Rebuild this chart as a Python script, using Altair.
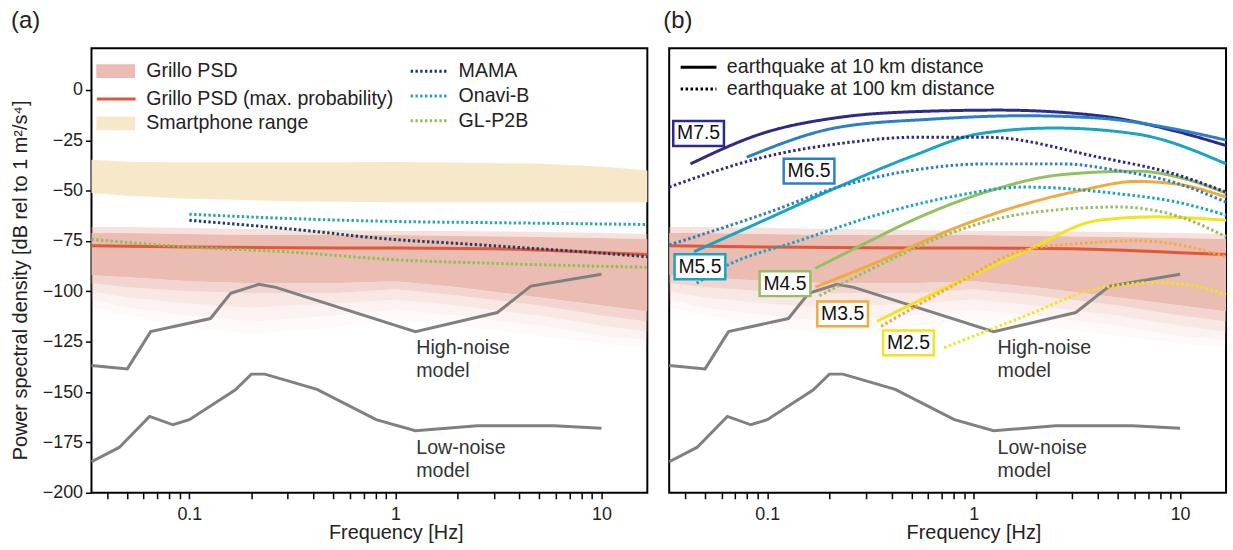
import altair as alt
import pandas as pd

FONT = "Liberation Sans"
FMIN, FMAX = 0.0335, 16.7
YMIN, YMAX = -200, 20.7

# ---------------- data ----------------
band_f = [0.0335, 0.05, 0.1, 0.2, 0.5, 1, 2, 5, 10, 16.7]
band_fuzz_top = [-68, -68, -68.5, -69, -69.5, -70, -70, -70.5, -71, -71.5]
band_core_top = [-71, -71, -71.5, -72, -72, -72, -72.5, -73, -73.5, -74]
band_core_bot = [-92, -93, -95, -96, -96, -95, -98, -103, -107, -110]
band_b1 = [-96, -98, -100, -101, -101, -99, -102, -107, -112, -115]
band_b2 = [-100, -103, -106, -108, -106, -104, -107, -112, -117, -120]
band_b3 = [-104, -108, -112, -115, -112, -109, -112, -117, -122, -124]
band_fuzz_bot = [-108, -112, -118, -121, -118, -114, -117, -122, -126, -128]

maxp_f = [0.0335, 0.1, 0.3, 1, 3, 6, 10, 16.7]
maxp_db = [-77.3, -78, -78.4, -78.5, -78.8, -79.8, -80.8, -81.7]

phone_f = [0.0335, 0.05, 0.1, 0.3, 1, 5, 10, 16.7]
phone_top = [-34.7, -35.6, -36, -36, -35.8, -36.5, -38, -40]
phone_bot = [-51.2, -52.5, -54, -55.2, -55.7, -55.8, -55.8, -55.8]

mama_f = [0.1, 0.3, 1, 2, 4.5, 10, 16.7]
mama_db = [-64.7, -68.9, -74.3, -76.2, -78.6, -81, -82.8]
onavi_f = [0.1, 0.3, 1, 3, 16.7]
onavi_db = [-61.7, -63.8, -65.3, -65.9, -66.8]
glp2b_f = [0.0335, 0.1, 0.3, 1, 3.5, 16.7]
glp2b_db = [-74.2, -78, -80.4, -84.3, -86.3, -88.1]

nhnm_f = [0.0335, 0.05, 0.0649, 0.1266, 0.1587, 0.2174, 0.263, 1.25, 3.125, 4.545, 10]
nhnm_db = [-136.8, -138.5, -120.0, -113.5, -101.0, -96.5, -98.0, -120.0, -110.5, -97.4, -91.5]
nlnm_f = [0.0335, 0.04566, 0.0641, 0.0833, 0.1, 0.1667, 0.2, 0.2326, 0.4167, 0.806, 1.25, 2.5, 5.88, 10]
nlnm_db = [-184.6, -177.5, -162.1, -166.25, -163.75, -149.0, -141.1, -141.1, -148.65, -163.7, -169.2, -166.7, -166.7, -168.0]

note_text = ["High-noise", "model", "Low-noise", "model"]
note_db = [-127.9, -139.8, -177.8, -189.1]
note_f_a = [1.263, 1.263, 1.263, 1.263]
note_f_b = [1.306, 1.306, 1.306, 1.306]

mag_labels = ["M7.5", "M6.5", "M5.5", "M4.5", "M3.5", "M2.5"]
mag_colors = ["#2d2a8a", "#2a7fc6", "#18a5c4", "#94c060", "#f0aa3e", "#f3e31f"]
label_f = [0.0465, 0.1594, 0.0472, 0.1219, 0.2319, 0.4833]
label_db = [-21.6, -40.3, -87.8, -96.2, -111.2, -125.6]

dist_labels = ["earthquake at 10 km distance", "earthquake at 100 km distance"]

# 10 km (solid)
m75_10_f = [0.0425, 0.0958, 0.22, 0.507, 1.32, 4.05, 9.3, 16.7]
m75_10_db = [-36.7, -21.4, -13.7, -10.8, -10.0, -12.8, -20.2, -27.6]
m65_10_f = [0.0795, 0.22, 0.623, 1.76, 4.05, 9.3, 16.7]
m65_10_db = [-33.4, -18.6, -14.5, -12.8, -14.0, -19.3, -24.9]
m55_10_f = [0.0442, 0.1, 0.22, 0.5, 1.07, 2.46, 6.17, 16.7]
m55_10_db = [-80.3, -64, -48.2, -33, -21.7, -18.9, -21.9, -36.7]
m45_10_f = [0.171, 0.3, 0.55, 1.16, 2.7, 6.2, 10, 16.7]
m45_10_db = [-88.6, -76, -63, -50.5, -42, -40.3, -43.5, -51.2]
m35_10_f = [0.171, 0.35, 0.766, 1.6, 3.3, 6.16, 10, 16.7]
m35_10_db = [-97.9, -85, -69.6, -58, -49.9, -45.4, -47, -53.2]
m25_10_f = [0.34, 0.8, 1.76, 4.05, 7.6, 16.7]
m25_10_db = [-114.9, -96.3, -80.3, -64.7, -63, -64.7]

# 100 km (dotted)
m75_100_f = [0.0335, 0.0958, 0.25, 0.507, 1.16, 4.05, 9.3, 16.7]
m75_100_db = [-48.2, -33.4, -26, -23.5, -23.5, -33.4, -41.6, -50.7]
m65_100_f = [0.0335, 0.1, 0.22, 0.5, 1.16, 2.68, 5, 9.3, 16.7]
m65_100_db = [-77, -61, -48.2, -40, -36.7, -36.7, -40, -45.8, -55.7]
m55_100_f = [0.0455, 0.06, 0.145, 0.4, 0.766, 1.76, 5, 10, 16.7]
m55_100_db = [-96, -88.5, -74.6, -60, -53.2, -48.2, -51.5, -56, -62.2]
m45_100_f = [0.179, 0.4, 0.766, 1.76, 5, 10, 16.7]
m45_100_db = [-102.2, -84, -71.2, -61.4, -58.1, -63, -72.9]
m35_100_f = [0.356, 0.8, 1.76, 3.5, 6.16, 10, 16.7]
m35_100_db = [-117.4, -97, -79.5, -76, -74.9, -77, -82.8]
m25_100_f = [0.72, 1.76, 4.05, 7.6, 12, 16.7]
m25_100_db = [-128, -112.4, -98.4, -95.6, -97.5, -101.7]

# ---------------- styles ----------------
PINK = "#ebbcb2"
BEIGE = "#f7e8c9"
RED = "#e0573c"
GRAY = "#808080"
sensor_names = ["MAMA", "Onavi-B", "GL-P2B"]
sensor_colors = ["#1d3c64", "#22a9a0", "#8fbf4d"]
LABEL_FS = 19.7

# ---------------- tables ----------------
band_df = pd.DataFrame({"f": band_f, "fuzz_top": band_fuzz_top, "core_top": band_core_top,
                        "core_bot": band_core_bot, "b1": band_b1, "b2": band_b2, "b3": band_b3,
                        "fuzz_bot": band_fuzz_bot})
maxp_df = pd.DataFrame({"f": maxp_f, "db": maxp_db, "series": "Grillo PSD (max. probability)"})
phone_df = pd.DataFrame({"f": phone_f, "top": phone_top, "bot": phone_bot, "series": "Smartphone range"})
sensor_df = pd.concat([
    pd.DataFrame({"f": mama_f, "db": mama_db, "series": "MAMA"}),
    pd.DataFrame({"f": onavi_f, "db": onavi_db, "series": "Onavi-B"}),
    pd.DataFrame({"f": glp2b_f, "db": glp2b_db, "series": "GL-P2B"}),
])
noise_df = pd.concat([
    pd.DataFrame({"f": nhnm_f, "db": nhnm_db, "model": "NHNM"}),
    pd.DataFrame({"f": nlnm_f, "db": nlnm_db, "model": "NLNM"}),
])
note_a_df = pd.DataFrame({"f": note_f_a, "db": note_db, "t": note_text})
note_b_df = pd.DataFrame({"f": note_f_b, "db": note_db, "t": note_text})

eq_rows = []
curves = {
    ("M7.5", 0): (m75_10_f, m75_10_db), ("M6.5", 0): (m65_10_f, m65_10_db),
    ("M5.5", 0): (m55_10_f, m55_10_db), ("M4.5", 0): (m45_10_f, m45_10_db),
    ("M3.5", 0): (m35_10_f, m35_10_db), ("M2.5", 0): (m25_10_f, m25_10_db),
    ("M7.5", 1): (m75_100_f, m75_100_db), ("M6.5", 1): (m65_100_f, m65_100_db),
    ("M5.5", 1): (m55_100_f, m55_100_db), ("M4.5", 1): (m45_100_f, m45_100_db),
    ("M3.5", 1): (m35_100_f, m35_100_db), ("M2.5", 1): (m25_100_f, m25_100_db),
}
for (mag, d), (fs, dbs) in curves.items():
    for f, v in zip(fs, dbs):
        eq_rows.append({"f": f, "db": v, "mag": mag, "dist": dist_labels[d], "id": f"{mag}-{d}"})
eq_df = pd.DataFrame(eq_rows)
label_df = pd.DataFrame({"f": label_f, "db": label_db, "mag": mag_labels})

# ---------------- encodings ----------------
tick_vals = [0.04, 0.05, 0.06, 0.07, 0.08, 0.09, 0.1, 0.2, 0.3, 0.4, 0.5, 0.6, 0.7, 0.8, 0.9,
             1, 2, 3, 4, 5, 6, 7, 8, 9, 10]
xscale = alt.Scale(type="log", domain=[FMIN, FMAX], nice=False)
yscale = alt.Scale(domain=[YMIN, YMAX], nice=False, zero=False)
xaxis = alt.Axis(title="Frequency [Hz]", values=tick_vals,
                 labelExpr="datum.value == 0.1 ? '0.1' : datum.value == 1 ? '1' : datum.value == 10 ? '10' : ''",
                 labelPadding=6.5, labelOverlap=False, labelFlush=False,
                 titleX=306, titleY=46.5, titleBaseline="alphabetic", titleAlign="center")
yaxis = alt.Axis(title="Power spectral density [dB rel to 1 m²/s⁴]",
                 values=[-200, -175, -150, -125, -100, -75, -50, -25, 0],
                 labelPadding=3, titleX=-71, titleY=233, titleAngle=-90,
                 titleAlign="center", titleBaseline="middle")


def X():
    return alt.X("f:Q", scale=xscale, axis=xaxis)


def Ya(field):
    return alt.Y(f"{field}:Q", scale=yscale, axis=yaxis)


def Yb(field):
    return alt.Y(f"{field}:Q", scale=yscale, axis=None)


rect_path = "M-1.95,-0.7H1.95V0.7H-1.95Z"
line_path = "M-1.95,0H1.95"
LEG = dict(title=None, orient="none", symbolSize=400, padding=0, labelFontSize=LABEL_FS,
           labelColor="#222", labelLimit=400, labelFont=FONT)

# Grillo PSD (fill channel legend)
leg_psd = alt.Legend(legendX=8, legendY=13, symbolType=rect_path, symbolStrokeWidth=0,
                     symbolOffset=6.33, labelOffset=20.7, symbolFillColor=PINK, **LEG)
psd_fill = alt.Fill("series:N", scale=alt.Scale(domain=["Grillo PSD"], range=[PINK]), legend=leg_psd)
# Grillo PSD max probability (color channel legend)
leg_max = alt.Legend(legendX=8, legendY=39.5, symbolType=line_path, symbolStrokeWidth=3,
                     symbolOffset=5.33, labelOffset=18.7, **LEG)
max_color = alt.Color("series:N", scale=alt.Scale(domain=["Grillo PSD (max. probability)"], range=[RED]),
                      legend=leg_max)
# Smartphone range (opacity channel legend)
leg_phone = alt.Legend(legendX=8, legendY=65.5, symbolType=rect_path, symbolStrokeWidth=0,
                       symbolOffset=6.33, labelOffset=20.7, symbolFillColor=BEIGE, **LEG)
phone_opacity = alt.Opacity("series:N", scale=alt.Scale(domain=["Smartphone range"], range=[1]),
                            legend=leg_phone)
# sensors (stroke channel legend)
leg_sensor = alt.Legend(legendX=323, legendY=11.5, symbolType="M-1.8,0H1.8", symbolStrokeWidth=3,
                        symbolDash=[2.4, 2.4], symbolOffset=4.5, labelOffset=18.7, rowPadding=3, **LEG)
sensor_stroke = alt.Stroke("series:N", scale=alt.Scale(domain=sensor_names, range=sensor_colors),
                           legend=leg_sensor)
# distances (strokeDash legend, panel b)
leg_dist = alt.Legend(legendX=14, legendY=7.5, symbolType="M-1.8,0H1.8", symbolStrokeWidth=3,
                      symbolStrokeColor="black", symbolOffset=4, labelOffset=17, rowPadding=0, **LEG)
dist_dash = alt.StrokeDash("dist:N", scale=alt.Scale(domain=dist_labels, range=[[1, 0], [2.5, 2.5]]),
                           legend=leg_dist)
mag_color = alt.Color("mag:N", scale=alt.Scale(domain=mag_labels, range=mag_colors), legend=None)
mag_stroke = alt.Stroke("mag:N", scale=alt.Scale(domain=mag_labels, range=mag_colors), legend=None)


def band_layers(Y):
    layers = [alt.Chart(band_df).mark_area(color=PINK, opacity=0.45).encode(
        x=X(), y=Y("fuzz_top"), y2="core_top:Q")]
    for top, bot, op in [("core_bot", "b1", 0.62), ("b1", "b2", 0.36), ("b2", "b3", 0.19), ("b3", "fuzz_bot", 0.08)]:
        layers.append(alt.Chart(band_df).mark_area(color=PINK, opacity=op).encode(
            x=X(), y=Y(top), y2=f"{bot}:Q"))
    return layers


def noise_layer(Y):
    return alt.Chart(noise_df).mark_line(color=GRAY, strokeWidth=3).encode(x=X(), y=Y("db"), detail="model:N")


def note_layer(df, Y):
    return alt.Chart(df).mark_text(align="left", baseline="middle", fontSize=LABEL_FS, color="#333").encode(
        x=X(), y=Y("db"), text="t:N")


# ---------------- panel (a) ----------------
core_a = alt.Chart(band_df.assign(series="Grillo PSD")).mark_area().encode(
    x=X(), y=Ya("core_top"), y2="core_bot:Q", fill=psd_fill)
phone_a = alt.Chart(phone_df).mark_area(color=BEIGE).encode(
    x=X(), y=Ya("top"), y2="bot:Q", opacity=phone_opacity)
maxp_a = alt.Chart(maxp_df).mark_line(strokeWidth=3, interpolate="monotone").encode(
    x=X(), y=Ya("db"), color=max_color)
sensors_a = alt.Chart(sensor_df).mark_line(strokeWidth=3, strokeDash=[2.4, 2.4], interpolate="monotone").encode(
    x=X(), y=Ya("db"), stroke=sensor_stroke, detail="series:N")

TITLE = dict(anchor="start", fontSize=24, fontWeight="normal", color="#222", offset=15)
panel_a = alt.layer(
    *band_layers(Ya), core_a, phone_a, noise_layer(Ya), maxp_a, sensors_a, note_layer(note_a_df, Ya)
).properties(width=559, height=447, title=alt.TitleParams("(a)", **TITLE))

# ---------------- panel (b) ----------------
core_b = alt.Chart(band_df).mark_area(color=PINK).encode(x=X(), y=Yb("core_top"), y2="core_bot:Q")
maxp_b = alt.Chart(maxp_df).mark_line(strokeWidth=3, color=RED, interpolate="monotone").encode(x=X(), y=Yb("db"))
eq_b = alt.Chart(eq_df).mark_line(strokeWidth=3, interpolate="monotone").encode(
    x=X(), y=Yb("db"), color=mag_color, strokeDash=dist_dash, detail="id:N")
box_b = alt.Chart(label_df).mark_point(
    shape="M-1,-0.49H1V0.49H-1Z", size=2601, filled=False, fill="white", fillOpacity=1,
    strokeWidth=2.5, opacity=1).encode(x=X(), y=Yb("db"), stroke=mag_stroke)
boxtext_b = alt.Chart(label_df).mark_text(fontSize=19.5, color="#111", baseline="middle").encode(
    x=X(), y=Yb("db"), text="mag:N")

panel_b = alt.layer(
    *band_layers(Yb), core_b, maxp_b, noise_layer(Yb), note_layer(note_b_df, Yb), eq_b, box_b, boxtext_b
).properties(width=560, height=447, title=alt.TitleParams("(b)", **TITLE))

chart = alt.hconcat(panel_a, panel_b, spacing=8).resolve_scale(
    x="independent", y="independent", color="independent", stroke="independent", strokeDash="independent",
    fill="independent", opacity="independent"
).resolve_axis(x="independent", y="independent").resolve_legend(
    color="independent", stroke="independent", strokeDash="independent", fill="independent",
    opacity="independent"
).properties(
    padding={"left": 9, "top": 7, "right": 0, "bottom": 0}
).configure(font=FONT).configure_view(
    stroke="black", strokeWidth=2
).configure_axis(
    grid=False, domain=False, tickColor="black", tickWidth=1.5, tickSize=6,
    labelFontSize=18, labelColor="#222", titleFontSize=20, titleFontWeight="normal", titleColor="#222",
    labelFont=FONT, titleFont=FONT
)

chart.save("out.html", embed_options={"renderer": "svg", "actions": False})
